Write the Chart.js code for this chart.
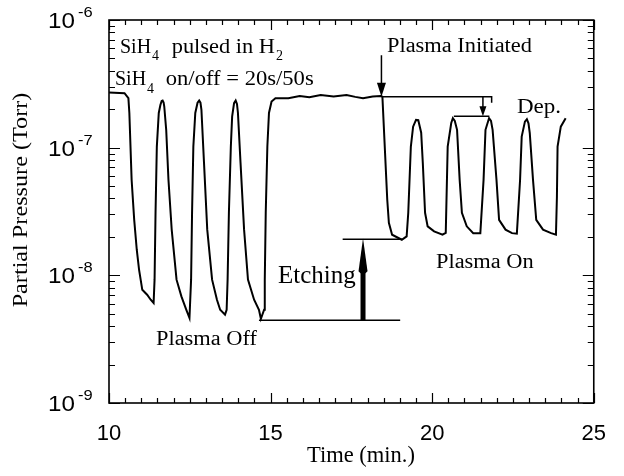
<!DOCTYPE html>
<html lang="en">
<head>
  <meta charset="UTF-8" />
  <title>SiH4 partial pressure vs time</title>
  <script src="https://cdn.jsdelivr.net/npm/chart.js"></script>
  <style>
    html, body { margin: 0; padding: 0; background: #fff; }
    #chart { display: block; }
  </style>
</head>
<body>
  <canvas id="chart" width="624" height="476"></canvas>
  <script>
    // time in minutes, SiH4 partial pressure in Torr
    const time = [10.0, 10.48, 10.60, 10.63, 10.70, 10.78, 10.86, 10.93, 11.03, 11.18, 11.29, 11.38,
      11.41, 11.44, 11.48, 11.54, 11.59, 11.63, 11.66, 11.69, 11.71, 11.77, 11.84, 11.94, 12.09, 12.24, 12.39, 12.49,
      12.54, 12.57, 12.61, 12.67, 12.74, 12.79, 12.83, 12.86, 12.94, 13.04, 13.19, 13.34, 13.44, 13.59, 13.64,
      13.67, 13.71, 13.77, 13.81, 13.87, 13.92, 13.96, 13.99, 14.07, 14.18, 14.30, 14.49, 14.64, 14.70, 14.80,
      14.82, 14.85, 14.90, 14.95, 15.03, 15.15, 15.55, 15.90, 16.20, 16.55, 16.95, 17.35, 17.62, 17.86,
      18.16, 18.41, 18.46, 18.61, 18.66, 18.76, 19.06, 19.21,
      19.26, 19.34, 19.41, 19.50, 19.57, 19.66, 19.71, 19.78, 19.86, 20.06, 20.32,
      20.42, 20.48, 20.59, 20.64, 20.70, 20.77, 20.85, 20.92, 21.07, 21.27, 21.49,
      21.59, 21.65, 21.76, 21.82, 21.87, 21.99, 22.07, 22.27, 22.47, 22.62,
      22.72, 22.77, 22.87, 22.93, 22.98, 23.02, 23.12, 23.22, 23.43, 23.68, 23.83,
      23.86, 23.88, 23.98, 24.13];
    const pressure = [2.70e-7, 2.67e-7, 2.44e-7, 1.87e-7, 5.6e-8, 2.72e-8, 1.58e-8, 1.11e-8, 7.7e-9, 7.05e-9, 6.44e-9, 6.07e-9,
      9.25e-9, 3.09e-8, 1.02e-7, 1.87e-7, 2.16e-7, 2.32e-7, 2.34e-7, 2.26e-7, 2.10e-7, 1.38e-7, 5.6e-8, 2.28e-8, 9.25e-9, 6.84e-9, 5.38e-9, 4.63e-9,
      9.25e-9, 3.09e-8, 1.02e-7, 1.87e-7, 2.25e-7, 2.34e-7, 2.25e-7, 1.98e-7, 7.6e-8, 2.28e-8, 9.25e-9, 6.44e-9, 5.38e-9, 4.92e-9, 5.38e-9,
      9.25e-9, 3.09e-8, 1.02e-7, 1.75e-7, 2.23e-7, 2.34e-7, 2.20e-7, 1.87e-7, 7.6e-8, 2.28e-8, 9.25e-9, 6.44e-9, 5.38e-9, 4.57e-9, 5.38e-9,
      9.25e-9, 3.09e-8, 1.02e-7, 1.87e-7, 2.30e-7, 2.44e-7, 2.44e-7, 2.54e-7, 2.48e-7, 2.59e-7, 2.52e-7, 2.59e-7, 2.50e-7, 2.44e-7,
      2.52e-7, 2.54e-7, 2.51e-7, 3.91e-8, 2.58e-8, 2.08e-8, 1.90e-8, 2.02e-8,
      3.09e-8, 1.02e-7, 1.46e-7, 1.65e-7, 1.64e-7, 1.31e-7, 7.6e-8, 3.09e-8, 2.42e-8, 2.21e-8, 2.08e-8,
      2.15e-8, 1.02e-7, 1.56e-7, 1.70e-7, 1.62e-7, 1.38e-7, 5.6e-8, 3.09e-8, 2.42e-8, 2.14e-8, 2.14e-8,
      5.6e-8, 1.38e-7, 1.70e-7, 1.62e-7, 1.38e-7, 5.6e-8, 2.72e-8, 2.28e-8, 2.14e-8, 2.12e-8,
      5.6e-8, 1.22e-7, 1.60e-7, 1.67e-7, 1.55e-7, 1.30e-7, 5.6e-8, 2.72e-8, 2.28e-8, 2.14e-8, 2.08e-8,
      4.14e-8, 1.02e-7, 1.46e-7, 1.70e-7];

    const xTicks = [10, 15, 20, 25];
    const yDecades = [-9, -8, -7, -6];

    const SERIF = 'Liberation Serif';
    const SANS = 'Liberation Sans';

    // text helper, sx = horizontal stretch (the scanned figure is a bit wide)
    function txt(ctx, s, x, y, size, family, sx) {
      sx = sx || 1;
      ctx.save();
      ctx.font = size + 'px "' + family + '"';
      ctx.translate(x, y);
      ctx.scale(sx, 1);
      ctx.fillText(s, 0, 0);
      const w = ctx.measureText(s).width * sx;
      ctx.restore();
      return w;
    }

    function arrowHead(ctx, x, tipY, len, half, dir) {
      ctx.beginPath();
      ctx.moveTo(x, tipY);
      ctx.lineTo(x - half, tipY - dir * len);
      ctx.lineTo(x + half, tipY - dir * len);
      ctx.closePath();
      ctx.fill();
    }

    const figurePlugin = {
      id: 'figure',
      afterDraw(chart) {
        const ctx = chart.ctx;
        const a = chart.chartArea;
        const x = chart.scales.x, y = chart.scales.y;
        const px = v => x.getPixelForValue(v);
        const py = v => y.getPixelForValue(v);
        ctx.save();
        ctx.strokeStyle = '#000';
        ctx.fillStyle = '#000';
        ctx.lineWidth = 1.6;
        ctx.textAlign = 'left';
        ctx.textBaseline = 'alphabetic';

        // frame
        ctx.strokeRect(a.left, a.top, a.right - a.left, a.bottom - a.top);

        // inward ticks, x (every 0.5 min)
        ctx.lineWidth = 1.2;
        ctx.beginPath();
        for (let t = 10; t <= 25.001; t += 0.5) {
          const major = Math.abs(t - Math.round(t / 5) * 5) < 1e-6;
          const len = major ? 10 : 5;
          const X = Math.round(px(t)) + 0.5;
          ctx.moveTo(X, a.bottom); ctx.lineTo(X, a.bottom - len);
          ctx.moveTo(X, a.top); ctx.lineTo(X, a.top + len);
        }
        // inward ticks, y (log)
        for (let d = -9; d <= -6; d++) {
          for (let m = 1; m <= 9; m++) {
            const v = m * Math.pow(10, d);
            if (v > 1.0001e-6) break;
            const len = m === 1 ? 11 : 6;
            const Y = Math.round(py(v)) + 0.5;
            ctx.moveTo(a.left, Y); ctx.lineTo(a.left + len, Y);
            ctx.moveTo(a.right, Y); ctx.lineTo(a.right - len, Y);
          }
        }
        ctx.stroke();

        // y tick labels 10^n
        yDecades.forEach(e => {
          const Y = py(Math.pow(10, e));
          const w = txt(ctx, '10', 48, Y + 8, 22, SANS, 1.1);
          txt(ctx, '-' + Math.abs(e), 48 + w + 3, Y - 3, 15, SANS, 1.1);
        });

        // axis titles
        txt(ctx, 'Time (min.)', 307, 462, 22.5, SERIF);
        ctx.save();
        ctx.translate(27, 200);
        ctx.rotate(-Math.PI / 2);
        ctx.textAlign = 'center';
        txt(ctx, 'Partial Pressure (Torr)', 0, 0, 22, SERIF, 1.1);
        ctx.restore();

        // SiH4 labels with subscripts
        let cx = 120;
        cx += txt(ctx, 'SiH', cx, 53, 20, SERIF);
        cx += txt(ctx, '4', cx + 1, 60, 14, SERIF) + 8;
        cx += txt(ctx, ' pulsed in H', cx, 53, 20, SERIF, 1.12);
        txt(ctx, '2', cx + 1, 60, 14, SERIF);

        cx = 115;
        cx += txt(ctx, 'SiH', cx, 85, 20, SERIF);
        cx += txt(ctx, '4', cx + 1, 93, 14, SERIF) + 7;
        txt(ctx, ' on/off = 20s/50s', cx, 85, 20, SERIF, 1.13);

        txt(ctx, 'Plasma Initiated', 387, 52, 20, SERIF, 1.12);
        txt(ctx, 'Dep.', 517, 113, 21.5, SERIF, 1.07);
        txt(ctx, 'Etching', 278, 283, 24.5, SERIF, 1.02);
        txt(ctx, 'Plasma On', 436, 268, 20, SERIF, 1.12);
        txt(ctx, 'Plasma Off', 156, 345, 20, SERIF, 1.12);

        // annotation lines
        ctx.lineWidth = 1.5;
        ctx.beginPath();
        // etching reference levels
        ctx.moveTo(px(14.64), py(4.45e-9)); ctx.lineTo(px(19.01), py(4.45e-9));
        ctx.moveTo(px(17.23), py(1.92e-8)); ctx.lineTo(px(19.06), py(1.92e-8));
        // deposition reference levels
        ctx.moveTo(px(18.43), py(2.51e-7)); ctx.lineTo(px(21.84), py(2.51e-7));
        ctx.lineTo(px(21.84), py(2.25e-7));
        ctx.moveTo(px(20.67), py(1.76e-7)); ctx.lineTo(px(21.77), py(1.76e-7));
        // plasma initiated arrow shaft
        ctx.moveTo(px(18.43), py(5.3e-7)); ctx.lineTo(px(18.43), py(2.51e-7) - 12);
        // dep arrow shaft
        ctx.moveTo(px(21.57), py(2.51e-7)); ctx.lineTo(px(21.57), py(1.76e-7) - 8);
        ctx.stroke();

        arrowHead(ctx, px(18.43), py(2.51e-7), 14, 4.5, 1);
        arrowHead(ctx, px(21.57), py(1.76e-7), 10, 3.5, 1);

        // etching arrow (thick, pointing up)
        const ex = px(17.86), eb = py(4.45e-9), et = py(1.92e-8);
        ctx.fillRect(ex - 2.5, et + 28, 5, eb - et - 28);
        ctx.beginPath();
        ctx.moveTo(ex, et - 1);
        ctx.lineTo(ex + 4.5, et + 32);
        ctx.lineTo(ex + 2.5, et + 34);
        ctx.lineTo(ex - 2.5, et + 34);
        ctx.lineTo(ex - 4.5, et + 32);
        ctx.closePath();
        ctx.fill();

        ctx.restore();
      }
    };

    new Chart(document.getElementById('chart'), {
      type: 'line',
      data: {
        datasets: [{
          data: time.map((t, i) => ({ x: t, y: pressure[i] })),
          borderColor: '#000',
          borderWidth: 2,
          pointRadius: 0,
          tension: 0,
          fill: false
        }]
      },
      options: {
        responsive: false,
        animation: false,
        devicePixelRatio: 1,
        layout: { padding: { top: 20, right: 17, left: 0, bottom: 0 } },
        plugins: { legend: { display: false }, tooltip: { enabled: false } },
        scales: {
          x: {
            type: 'linear', min: 10, max: 25,
            afterBuildTicks: s => { s.ticks = xTicks.map(v => ({ value: v })); },
            ticks: { font: { family: SANS, size: 22 }, color: '#000', padding: 18, maxRotation: 0 },
            grid: { display: false, drawTicks: false },
            border: { display: false },
            afterFit: s => { s.height = 73; }
          },
          y: {
            type: 'logarithmic', min: 1e-9, max: 1e-6,
            ticks: { display: false },
            grid: { display: false, drawTicks: false },
            border: { display: false },
            afterFit: s => { s.width = 109; }
          }
        }
      },
      plugins: [figurePlugin]
    });
  </script>
</body>
</html>
